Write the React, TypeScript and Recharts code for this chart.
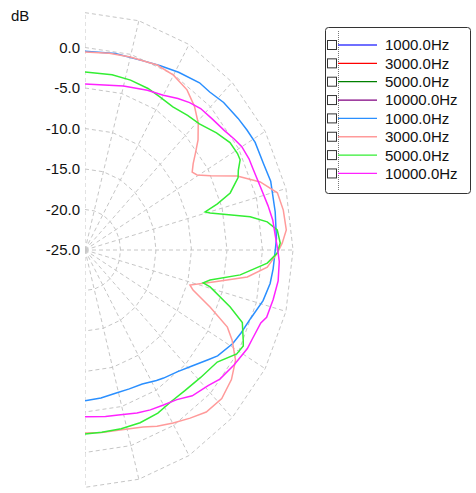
import React from 'react';
import { ComposedChart, Line, XAxis, YAxis, Customized } from 'recharts';

// ---- data (angle in degrees from top, level in dB) ----
const DB_FLOOR = -25;
const TICKS_DB = [0, -5, -10, -15, -20, -25];
const RING_DB = [-20, -15, -10, -5, 0, 4.3];
const SPOKE_ANGLES = [0, 15, 30, 45, 60, 75, 90, 105, 120, 135, 150, 165, 180];

const blueAngles = [0, 10, 20, 25, 31, 38, 42, 47, 53, 57, 61, 67, 72, 80, 87, 90, 95, 99, 104, 110, 115, 119, 125, 128, 134, 139, 145, 148, 154, 160, 166, 173, 180];
const blueDb = [-0.45, -0.38, -0.22, 0.1, 0.6, 1.2, 1.25, 1.7, 2.0, 2.2, 2.4, 2.3, 2.5, 2.2, 2.0, 1.8, 1.6, 1.4, 0.85, -0.2, -0.75, -1.2, -2.2, -3.0, -4.3, -5.1, -5.7, -6.0, -6.6, -6.75, -6.8, -6.6, -6.4];

const pinkAngles = [0, 8, 15, 24, 30, 36, 41, 45.5, 49.5, 52.5, 55, 57.5, 59.6, 62.6, 66.9, 71.2, 75.4, 80, 85, 88.2, 90.8, 94.7, 98.3, 102.3, 106.3, 108, 111.8, 115.4, 118.2, 122.7, 127.8, 133.6, 139.5, 144.5, 149.8, 155, 159.5, 167.5, 174, 180];
const pinkDb = [-0.56, -0.48, -0.34, 0.0, -0.08, -0.56, -1.5, -2.64, -4.06, -5.4, -6.4, -7.1, -6.7, -5.1, -1.7, 1.07, 3.0, 3.36, 3.46, 2.8, 2.08, 0.76, -1.9, -6.5, -9.6, -9.0, -6.0, -2.8, -1.5, 0.2, 1.1, 1.6, 1.3, 0.5, -0.3, -1.0, -1.67, -2.24, -2.35, -2.4];

const greenAngles = [0, 10, 17, 24, 29, 35, 41, 46, 52, 57, 61, 63, 65.5, 67.5, 71, 73, 74.5, 75.5, 80, 82.3, 84.8, 88.2, 90.8, 93.6, 98, 101.9, 103.7, 104.5, 109, 112, 116.5, 118, 121, 126.6, 134, 141, 147, 153, 160, 167, 174, 180];
const greenDb = [-3.02, -3.04, -3.07, -3.17, -3.35, -3.42, -2.98, -2.6, -1.5, -0.65, -0.44, -0.48, -1.27, -1.66, -3.37, -5.5, -7.44, -6.8, -1.38, 0.9, 2.19, 2.51, 2.08, 0.72, -2.92, -7.0, -7.87, -6.8, -3.37, -1.1, -0.1, 0.25, -0.07, -1.8, -2.35, -2.65, -2.7, -2.4, -2.3, -2.35, -2.39, -2.28];

const magentaAngles = [0, 15, 24, 30, 35, 39, 43, 48, 53, 57, 60, 64, 67, 72, 78, 82, 86, 90, 93, 98, 103, 108, 110, 115, 118, 124, 130, 134, 140, 145, 150, 155, 160, 167, 172, 180];
const magentaDb = [-4.5, -4.05, -3.4, -2.93, -2.18, -1.58, -1.12, -0.85, -0.45, 0.1, 0.5, 0.7, 0.7, 0.88, 1.35, 1.7, 1.85, 2.15, 2.4, 2.47, 2.2, 1.9, 1.35, 1.0, 0.9, 0.35, -0.2, -0.9, -1.5, -2.45, -2.9, -3.22, -3.6, -4.1, -4.25, -4.4];

const LEGEND_LABELS = ['1000.0Hz', '3000.0Hz', '5000.0Hz', '10000.0Hz', '1000.0Hz', '3000.0Hz', '5000.0Hz', '10000.0Hz'];
const LEGEND_COLORS = ['#3f3fff', '#ff0000', '#008000', '#800080', '#2a8fff', '#ff9a9a', '#33ee33', '#ff22ff'];

// ---- helpers ----
const FONT = '"Liberation Sans", Arial, sans-serif';
const rad = (a: number) => (a * Math.PI) / 180;
const toXY = (angle: number, db: number) => {
  const r = Math.max(0, db - DB_FLOOR);
  return { x: r * Math.sin(rad(angle)), y: r * Math.cos(rad(angle)) };
};
const curve = (angles: number[], dbs: number[]) => angles.map((a, i) => toXY(a, dbs[i]));

const series = [
  { key: 'b', data: curve(blueAngles, blueDb), color: LEGEND_COLORS[4] },
  { key: 'p', data: curve(pinkAngles, pinkDb), color: LEGEND_COLORS[5] },
  { key: 'g', data: curve(greenAngles, greenDb), color: LEGEND_COLORS[6] },
  { key: 'm', data: curve(magentaAngles, magentaDb), color: LEGEND_COLORS[7] },
];

const rings = RING_DB.map((d) => SPOKE_ANGLES.map((a) => toXY(a, d)));
const outerDb = RING_DB[RING_DB.length - 1];
const spokes = SPOKE_ANGLES.map((a) => [toXY(0, DB_FLOOR), toXY(a, outerDb)]);

const LegendBox = () => (
  <g>
    <text x={11} y={21} fontSize={15} fontFamily={FONT} fill="#111">dB</text>
    <rect x={325.5} y={27.5} width={145} height={166} rx={3} fill="#fff" stroke="#333" />
    <line x1={338.5} y1={31} x2={338.5} y2={191} stroke="#777" strokeDasharray="1 1" />
    {LEGEND_LABELS.map((lab, i) => {
      const cy = 45 + i * 18.35;
      return (
        <g key={i}>
          <rect x={327.5} y={cy - 4.5} width={9} height={9} fill="#fff" stroke="#333" />
          <line x1={338} x2={377} y1={cy} y2={cy} stroke={LEGEND_COLORS[i]} strokeWidth={1.3} />
          <text x={385} y={cy} dy="0.36em" fontSize={15} fontFamily={FONT} fill="#111">{lab}</text>
        </g>
      );
    })}
  </g>
);

export default function App() {
  return (
    <div style={{ position: 'absolute', left: 0, top: 0, background: '#fff' }}>
      <ComposedChart width={476} height={493} margin={{ top: 7, right: 178, bottom: 0, left: 0 }}>
        <XAxis type="number" dataKey="x" domain={[0, 30]} hide allowDataOverflow />
        <YAxis
          type="number"
          dataKey="y"
          domain={[-30, 30]}
          width={85}
          ticks={TICKS_DB.map((d) => d - DB_FLOOR)}
          interval={0}
          tickFormatter={(v: number) => (v + DB_FLOOR).toFixed(1)}
          axisLine={false}
          tickLine={false}
          tickSize={0}
          tickMargin={5}
          tick={{ fill: '#111', fontSize: 15, fontFamily: FONT }}
          allowDataOverflow
        />
        {rings.map((d, i) => (
          <Line key={'ring' + i} data={d} dataKey="y" stroke="#c6c6c6" strokeWidth={1} strokeDasharray="4 3" dot={false} isAnimationActive={false} />
        ))}
        {spokes.map((d, i) => (
          <Line key={'spoke' + i} data={d} dataKey="y" stroke="#c6c6c6" strokeWidth={1} strokeDasharray="4 3" dot={false} isAnimationActive={false} />
        ))}
        {series.map((s) => (
          <Line key={s.key} data={s.data} dataKey="y" stroke={s.color} strokeWidth={1.5} dot={false} isAnimationActive={false} />
        ))}
        <Customized component={<LegendBox />} />
      </ComposedChart>
    </div>
  );
}
